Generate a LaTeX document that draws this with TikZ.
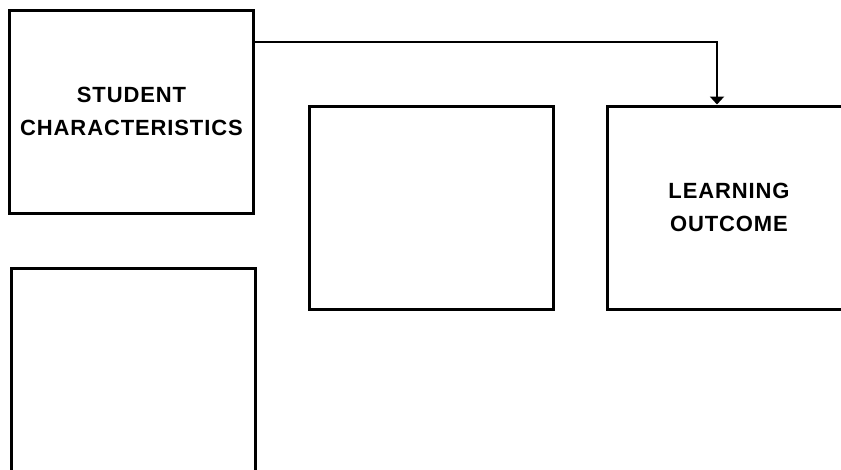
\documentclass[tikz,border=0pt]{standalone}
\usepackage{fontspec}
\newfontfamily\boxfont[LetterSpace=4]{Liberation Sans}
\usetikzlibrary{arrows.meta}
\begin{document}
\begin{tikzpicture}[x=1pt,y=-1pt,
  every node/.style={font=\boxfont\bfseries\fontsize{22}{33}\selectfont},
  box/.style={draw,line width=3pt,minimum width=244pt,minimum height=203pt,align=center,inner sep=0pt}]
\useasboundingbox (0,0) rectangle (841,469);
\clip (0,0) rectangle (841,469);
\node[box] (student) at (131.5,111.5) {STUDENT\\CHARACTERISTICS};
\node[box] (middle) at (431,208) {};
\node[box] (outcome) at (729,207.5) {LEARNING\\OUTCOME};
\node[box] (lower) at (133.5,369.5) {};
\draw[line width=2pt,-{Triangle[width=14pt,length=8pt]}] (student.east |- 0,42) -| ([xshift=-12pt]outcome.north);
\end{tikzpicture}
\end{document}
